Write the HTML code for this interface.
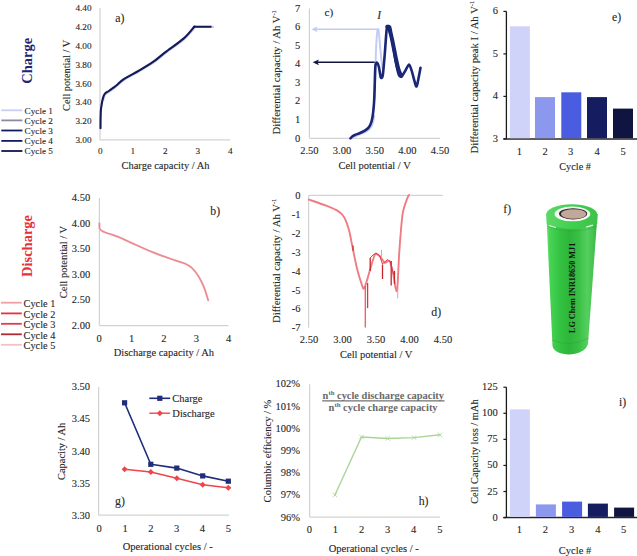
<!DOCTYPE html>
<html><head><meta charset="utf-8"><style>
html,body{margin:0;padding:0;background:#fff;}
svg{display:block;font-family:"Liberation Serif", serif;}
</style></head><body>
<svg width="637" height="556" viewBox="0 0 637 556">
<rect width="637" height="556" fill="#fff"/>
<text x="32.3" y="60.8" font-size="14.5" text-anchor="middle" font-weight="bold" font-style="normal" fill="#1c2675" transform="rotate(-90 32.3 60.8)">Charge</text>
<text x="32.4" y="246" font-size="14.5" text-anchor="middle" font-weight="bold" font-style="normal" fill="#e8303a" transform="rotate(-90 32.4 246)">Discharge</text>
<line x1="1.3" y1="110.3" x2="22.4" y2="110.3" stroke="#c9cef5" stroke-width="1.8"/>
<text x="24.6" y="113.5" font-size="9.2" text-anchor="start" font-weight="normal" font-style="normal" fill="#262626" stroke="#262626" stroke-width="0.1">Cycle 1</text>
<line x1="1.3" y1="120.4" x2="22.4" y2="120.4" stroke="#8a8aa5" stroke-width="1.8"/>
<text x="24.6" y="123.60000000000001" font-size="9.2" text-anchor="start" font-weight="normal" font-style="normal" fill="#262626" stroke="#262626" stroke-width="0.1">Cycle 2</text>
<line x1="1.3" y1="130.5" x2="22.4" y2="130.5" stroke="#121a62" stroke-width="1.8"/>
<text x="24.6" y="133.7" font-size="9.2" text-anchor="start" font-weight="normal" font-style="normal" fill="#262626" stroke="#262626" stroke-width="0.1">Cycle 3</text>
<line x1="1.3" y1="140.9" x2="22.4" y2="140.9" stroke="#141c60" stroke-width="1.8"/>
<text x="24.6" y="144.1" font-size="9.2" text-anchor="start" font-weight="normal" font-style="normal" fill="#262626" stroke="#262626" stroke-width="0.1">Cycle 4</text>
<line x1="1.3" y1="151" x2="22.4" y2="151" stroke="#10164f" stroke-width="1.8"/>
<text x="24.6" y="154.2" font-size="9.2" text-anchor="start" font-weight="normal" font-style="normal" fill="#262626" stroke="#262626" stroke-width="0.1">Cycle 5</text>
<line x1="1" y1="302.7" x2="21.8" y2="302.7" stroke="#f0a0a4" stroke-width="1.8"/>
<text x="23.6" y="306.9" font-size="10.3" text-anchor="start" font-weight="normal" font-style="normal" fill="#262626" stroke="#262626" stroke-width="0.1">Cycle 1</text>
<line x1="1" y1="313.4" x2="21.8" y2="313.4" stroke="#e8303a" stroke-width="1.8"/>
<text x="23.6" y="317.59999999999997" font-size="10.3" text-anchor="start" font-weight="normal" font-style="normal" fill="#262626" stroke="#262626" stroke-width="0.1">Cycle 2</text>
<line x1="1" y1="323.8" x2="21.8" y2="323.8" stroke="#d8404a" stroke-width="1.8"/>
<text x="23.6" y="328.0" font-size="10.3" text-anchor="start" font-weight="normal" font-style="normal" fill="#262626" stroke="#262626" stroke-width="0.1">Cycle 3</text>
<line x1="1" y1="334.3" x2="21.8" y2="334.3" stroke="#b02a30" stroke-width="1.8"/>
<text x="23.6" y="338.5" font-size="10.3" text-anchor="start" font-weight="normal" font-style="normal" fill="#262626" stroke="#262626" stroke-width="0.1">Cycle 4</text>
<line x1="1" y1="344.8" x2="21.8" y2="344.8" stroke="#f5c0c4" stroke-width="1.8"/>
<text x="23.6" y="349.0" font-size="10.3" text-anchor="start" font-weight="normal" font-style="normal" fill="#262626" stroke="#262626" stroke-width="0.1">Cycle 5</text>
<line x1="100" y1="8" x2="100" y2="139.9" stroke="#d3d3d3" stroke-width="1.25"/>
<line x1="100" y1="139.9" x2="230.3" y2="139.9" stroke="#d3d3d3" stroke-width="1.25"/>
<text x="91.5" y="11.1" font-size="9.2" text-anchor="end" font-weight="normal" font-style="normal" fill="#262626" stroke="#262626" stroke-width="0.1">4.40</text>
<text x="91.5" y="30.0" font-size="9.2" text-anchor="end" font-weight="normal" font-style="normal" fill="#262626" stroke="#262626" stroke-width="0.1">4.20</text>
<text x="91.5" y="48.8" font-size="9.2" text-anchor="end" font-weight="normal" font-style="normal" fill="#262626" stroke="#262626" stroke-width="0.1">4.00</text>
<text x="91.5" y="67.7" font-size="9.2" text-anchor="end" font-weight="normal" font-style="normal" fill="#262626" stroke="#262626" stroke-width="0.1">3.80</text>
<text x="91.5" y="86.5" font-size="9.2" text-anchor="end" font-weight="normal" font-style="normal" fill="#262626" stroke="#262626" stroke-width="0.1">3.60</text>
<text x="91.5" y="105.3" font-size="9.2" text-anchor="end" font-weight="normal" font-style="normal" fill="#262626" stroke="#262626" stroke-width="0.1">3.40</text>
<text x="91.5" y="124.2" font-size="9.2" text-anchor="end" font-weight="normal" font-style="normal" fill="#262626" stroke="#262626" stroke-width="0.1">3.20</text>
<text x="91.5" y="143.0" font-size="9.2" text-anchor="end" font-weight="normal" font-style="normal" fill="#262626" stroke="#262626" stroke-width="0.1">3.00</text>
<text x="100.4" y="153.5" font-size="9.2" text-anchor="middle" font-weight="normal" font-style="normal" fill="#262626" stroke="#262626" stroke-width="0.1">0</text>
<text x="132.88" y="153.5" font-size="9.2" text-anchor="middle" font-weight="normal" font-style="normal" fill="#262626" stroke="#262626" stroke-width="0.1">1</text>
<text x="165.36" y="153.5" font-size="9.2" text-anchor="middle" font-weight="normal" font-style="normal" fill="#262626" stroke="#262626" stroke-width="0.1">2</text>
<text x="197.84" y="153.5" font-size="9.2" text-anchor="middle" font-weight="normal" font-style="normal" fill="#262626" stroke="#262626" stroke-width="0.1">3</text>
<text x="230.32" y="153.5" font-size="9.2" text-anchor="middle" font-weight="normal" font-style="normal" fill="#262626" stroke="#262626" stroke-width="0.1">4</text>
<text x="165.5" y="168.5" font-size="10.5" text-anchor="middle" font-weight="normal" font-style="normal" fill="#262626" stroke="#262626" stroke-width="0.1">Charge capacity / Ah</text>
<text x="115.3" y="22.1" font-size="11.8" text-anchor="start" font-weight="normal" font-style="normal" fill="#262626" stroke="#262626" stroke-width="0.1">a)</text>
<text x="70" y="75.4" font-size="10.3" text-anchor="middle" font-weight="normal" font-style="normal" fill="#262626" stroke="#262626" stroke-width="0.1" transform="rotate(-90 70 75.4)">Cell potential / V</text>
<path d="M103.20,99.90 C103.38,99.28 103.85,97.25 104.30,96.20 C104.75,95.15 105.05,94.40 105.90,93.60 C106.75,92.80 108.15,92.25 109.40,91.40 C110.65,90.55 111.95,89.58 113.40,88.50 C114.85,87.42 116.20,86.45 118.10,84.90 C120.00,83.35 121.15,81.55 124.80,79.20 C128.45,76.85 135.13,73.65 140.00,70.80 C144.87,67.95 149.72,65.10 154.00,62.10 C158.28,59.10 160.63,56.68 165.70,52.80 C170.77,48.92 179.53,43.08 184.40,38.80 C189.27,34.52 193.13,29.08 194.90,27.10 C196.67,25.12 191.98,26.93 195.00,26.90 C198.02,26.87 210.00,26.90 213.00,26.90" fill="none" stroke="#c9cef5" stroke-width="2.4" stroke-linejoin="round" stroke-linecap="round"/>
<path d="M100.50,128.30 C100.52,126.58 100.53,121.05 100.60,118.00 C100.67,114.95 100.73,112.17 100.90,110.00 C101.07,107.83 101.32,106.75 101.60,105.00 C101.88,103.25 102.25,101.03 102.60,99.50 C102.95,97.97 103.25,96.85 103.70,95.80 C104.15,94.75 104.45,94.00 105.30,93.20 C106.15,92.40 107.55,91.85 108.80,91.00 C110.05,90.15 111.35,89.18 112.80,88.10 C114.25,87.02 115.60,86.05 117.50,84.50 C119.40,82.95 120.55,81.15 124.20,78.80 C127.85,76.45 134.53,73.25 139.40,70.40 C144.27,67.55 149.12,64.70 153.40,61.70 C157.68,58.70 160.03,56.28 165.10,52.40 C170.17,48.52 178.93,42.68 183.80,38.40 C188.67,34.12 192.55,28.65 194.30,26.70" fill="none" stroke="#131a56" stroke-width="2.1" stroke-linejoin="round" stroke-linecap="round"/>
<path d="M194.3,26.7 L210.7,26.7" fill="none" stroke="#131a56" stroke-width="2.1" stroke-linejoin="round" stroke-linecap="round"/>
<line x1="99.4" y1="198" x2="99.4" y2="325.5" stroke="#d3d3d3" stroke-width="1.25"/>
<line x1="99.4" y1="325.5" x2="228.6" y2="325.5" stroke="#d3d3d3" stroke-width="1.25"/>
<text x="90.2" y="201.3" font-size="10.5" text-anchor="end" font-weight="normal" font-style="normal" fill="#262626" stroke="#262626" stroke-width="0.1">4.50</text>
<text x="90.2" y="226.8" font-size="10.5" text-anchor="end" font-weight="normal" font-style="normal" fill="#262626" stroke="#262626" stroke-width="0.1">4.00</text>
<text x="90.2" y="252.3" font-size="10.5" text-anchor="end" font-weight="normal" font-style="normal" fill="#262626" stroke="#262626" stroke-width="0.1">3.50</text>
<text x="90.2" y="277.9" font-size="10.5" text-anchor="end" font-weight="normal" font-style="normal" fill="#262626" stroke="#262626" stroke-width="0.1">3.00</text>
<text x="90.2" y="303.4" font-size="10.5" text-anchor="end" font-weight="normal" font-style="normal" fill="#262626" stroke="#262626" stroke-width="0.1">2.50</text>
<text x="90.2" y="329.0" font-size="10.5" text-anchor="end" font-weight="normal" font-style="normal" fill="#262626" stroke="#262626" stroke-width="0.1">2.00</text>
<text x="99.2" y="342.0" font-size="10.5" text-anchor="middle" font-weight="normal" font-style="normal" fill="#262626" stroke="#262626" stroke-width="0.1">0</text>
<text x="131.55" y="342.0" font-size="10.5" text-anchor="middle" font-weight="normal" font-style="normal" fill="#262626" stroke="#262626" stroke-width="0.1">1</text>
<text x="163.9" y="342.0" font-size="10.5" text-anchor="middle" font-weight="normal" font-style="normal" fill="#262626" stroke="#262626" stroke-width="0.1">2</text>
<text x="196.25" y="342.0" font-size="10.5" text-anchor="middle" font-weight="normal" font-style="normal" fill="#262626" stroke="#262626" stroke-width="0.1">3</text>
<text x="228.60000000000002" y="342.0" font-size="10.5" text-anchor="middle" font-weight="normal" font-style="normal" fill="#262626" stroke="#262626" stroke-width="0.1">4</text>
<text x="163.9" y="356.3" font-size="10.5" text-anchor="middle" font-weight="normal" font-style="normal" fill="#262626" stroke="#262626" stroke-width="0.1">Discharge capacity / Ah</text>
<text x="210.3" y="215.3" font-size="11.8" text-anchor="start" font-weight="normal" font-style="normal" fill="#262626" stroke="#262626" stroke-width="0.1">b)</text>
<text x="67" y="262" font-size="10.5" text-anchor="middle" font-weight="normal" font-style="normal" fill="#262626" stroke="#262626" stroke-width="0.1" transform="rotate(-90 67 262)">Cell potential / V</text>
<path d="M99.40,223.30 C99.42,223.88 99.35,227.45 99.60,228.30 C99.84,229.15 100.79,230.10 101.50,230.60 C102.21,231.10 104.44,232.11 105.70,232.60 C106.96,233.09 110.63,234.22 112.30,234.80 C113.97,235.38 118.20,236.85 120.00,237.60 C121.80,238.35 125.90,240.37 127.70,241.20 C129.50,242.03 133.47,243.84 135.40,244.70 C137.33,245.56 142.16,247.71 144.20,248.60 C146.24,249.49 150.99,251.52 152.90,252.30 C154.81,253.08 158.84,254.65 160.60,255.30 C162.36,255.95 166.17,257.27 168.00,257.90 C169.83,258.53 174.31,260.02 176.30,260.70 C178.30,261.38 183.30,262.88 185.10,263.70 C186.90,264.52 190.29,266.46 191.70,267.70 C193.11,268.94 196.04,272.63 197.20,274.30 C198.35,275.97 200.70,280.20 201.60,282.00 C202.50,283.80 204.13,287.56 204.90,289.70 C205.67,291.83 207.81,299.06 208.20,300.30" fill="none" stroke="#f2a6aa" stroke-width="2.0" stroke-linejoin="round" stroke-linecap="round"/>
<path d="M99.40,223.30 C99.42,223.88 99.35,227.45 99.60,228.30 C99.84,229.15 100.79,230.10 101.50,230.60 C102.21,231.10 104.44,232.11 105.70,232.60 C106.96,233.09 110.63,234.22 112.30,234.80 C113.97,235.38 118.20,236.85 120.00,237.60 C121.80,238.35 125.90,240.37 127.70,241.20 C129.50,242.03 133.47,243.84 135.40,244.70 C137.33,245.56 142.16,247.71 144.20,248.60 C146.24,249.49 150.99,251.52 152.90,252.30 C154.81,253.08 158.84,254.65 160.60,255.30 C162.36,255.95 166.17,257.27 168.00,257.90 C169.83,258.53 174.31,260.02 176.30,260.70 C178.30,261.38 183.30,262.88 185.10,263.70 C186.90,264.52 190.29,266.46 191.70,267.70 C193.11,268.94 196.04,272.63 197.20,274.30 C198.35,275.97 200.70,280.20 201.60,282.00 C202.50,283.80 204.13,287.56 204.90,289.70 C205.67,291.83 207.81,299.06 208.20,300.30" fill="none" stroke="#e4737a" stroke-width="0.7" stroke-linejoin="round" stroke-linecap="round"/>
<line x1="309.4" y1="8.5" x2="309.4" y2="138" stroke="#d3d3d3" stroke-width="1.25"/>
<line x1="309.4" y1="138.3" x2="440" y2="138.3" stroke="#d3d3d3" stroke-width="1.25"/>
<text x="297.6" y="11.5" font-size="10.5" text-anchor="middle" font-weight="normal" font-style="normal" fill="#262626" stroke="#262626" stroke-width="0.1">7</text>
<text x="297.6" y="30.0" font-size="10.5" text-anchor="middle" font-weight="normal" font-style="normal" fill="#262626" stroke="#262626" stroke-width="0.1">6</text>
<text x="297.6" y="48.6" font-size="10.5" text-anchor="middle" font-weight="normal" font-style="normal" fill="#262626" stroke="#262626" stroke-width="0.1">5</text>
<text x="297.6" y="67.2" font-size="10.5" text-anchor="middle" font-weight="normal" font-style="normal" fill="#262626" stroke="#262626" stroke-width="0.1">4</text>
<text x="297.6" y="85.8" font-size="10.5" text-anchor="middle" font-weight="normal" font-style="normal" fill="#262626" stroke="#262626" stroke-width="0.1">3</text>
<text x="297.6" y="104.3" font-size="10.5" text-anchor="middle" font-weight="normal" font-style="normal" fill="#262626" stroke="#262626" stroke-width="0.1">2</text>
<text x="297.6" y="122.9" font-size="10.5" text-anchor="middle" font-weight="normal" font-style="normal" fill="#262626" stroke="#262626" stroke-width="0.1">1</text>
<text x="297.6" y="141.5" font-size="10.5" text-anchor="middle" font-weight="normal" font-style="normal" fill="#262626" stroke="#262626" stroke-width="0.1">0</text>
<text x="309.4" y="153.8" font-size="10.5" text-anchor="middle" font-weight="normal" font-style="normal" fill="#262626" stroke="#262626" stroke-width="0.1">2.50</text>
<text x="342.04999999999995" y="153.8" font-size="10.5" text-anchor="middle" font-weight="normal" font-style="normal" fill="#262626" stroke="#262626" stroke-width="0.1">3.00</text>
<text x="374.7" y="153.8" font-size="10.5" text-anchor="middle" font-weight="normal" font-style="normal" fill="#262626" stroke="#262626" stroke-width="0.1">3.50</text>
<text x="407.34999999999997" y="153.8" font-size="10.5" text-anchor="middle" font-weight="normal" font-style="normal" fill="#262626" stroke="#262626" stroke-width="0.1">4.00</text>
<text x="440.0" y="153.8" font-size="10.5" text-anchor="middle" font-weight="normal" font-style="normal" fill="#262626" stroke="#262626" stroke-width="0.1">4.50</text>
<text x="374.6" y="169" font-size="10.5" text-anchor="middle" font-weight="normal" font-style="normal" fill="#262626" stroke="#262626" stroke-width="0.1">Cell potential / V</text>
<text x="324.6" y="15.7" font-size="11.3" text-anchor="start" font-weight="normal" font-style="normal" fill="#262626" stroke="#262626" stroke-width="0.1">c)</text>
<text x="379.2" y="19.3" font-size="11.5" text-anchor="middle" font-weight="normal" font-style="italic" fill="#262626" stroke="#262626" stroke-width="0.1">I</text>
<text x="280.5" y="72.3" font-size="10.7" text-anchor="middle" font-weight="normal" font-style="normal" fill="#262626" stroke="#262626" stroke-width="0.1" transform="rotate(-90 280.5 72.3)">Differential capacity / Ah V<tspan font-size="6.5" dy="-4">-1</tspan></text>
<line x1="377.4" y1="29.3" x2="315" y2="29.3" stroke="#c5cbf5" stroke-width="1.4"/>
<path d="M311.5,29.3 L317.5,26.4 L316.3,29.3 L317.5,32.2 Z" fill="#c5cbf5"/>
<line x1="375.2" y1="62.3" x2="316" y2="62.3" stroke="#10153f" stroke-width="1.5"/>
<path d="M312.7,62.3 L318.9,59.4 L317.6,62.3 L318.9,65.2 Z" fill="#10153f"/>
<path d="M372.80,118.00 C373.03,115.00 373.80,107.17 374.20,100.00 C374.60,92.83 374.90,83.33 375.20,75.00 C375.50,66.67 375.67,57.17 376.00,50.00 C376.33,42.83 376.80,35.40 377.20,32.00 C377.60,28.60 378.03,28.60 378.40,29.60 C378.77,30.60 379.07,34.60 379.40,38.00 C379.73,41.40 380.05,46.27 380.40,50.00 C380.75,53.73 381.17,57.40 381.50,60.40 C381.83,63.40 382.25,66.73 382.40,68.00" fill="none" stroke="#c5cbf5" stroke-width="2.0" stroke-linejoin="round" stroke-linecap="round"/>
<path d="M352.00,137.80 C352.53,137.51 354.80,136.16 356.00,135.60 C357.20,135.04 359.67,134.16 361.00,133.60 C362.33,133.04 364.80,132.15 366.00,131.40 C367.20,130.65 369.12,129.12 370.00,128.00 C370.88,126.88 372.07,124.60 372.60,123.00 C373.13,121.40 373.81,116.93 374.00,116.00" fill="none" stroke="#c5cbf5" stroke-width="2.4" stroke-linejoin="round" stroke-linecap="round"/>
<path d="M350.40,138.40 C350.64,138.16 351.98,136.70 352.50,136.30 C353.02,135.90 354.02,135.38 354.90,135.00 C355.77,134.62 358.84,133.51 360.00,133.00 C361.16,132.49 363.87,131.16 364.80,130.60 C365.73,130.04 367.41,128.78 368.00,128.20 C368.59,127.62 369.49,126.38 369.90,125.60 C370.31,124.82 371.17,122.66 371.50,121.50 C371.83,120.34 372.44,117.39 372.70,115.70 C372.96,114.01 373.51,109.06 373.70,107.00 C373.89,104.94 374.18,100.45 374.30,98.00 C374.42,95.55 374.61,89.03 374.70,86.00 C374.79,82.97 375.01,74.45 375.10,72.00 C375.19,69.55 375.31,66.11 375.50,65.00 C375.69,63.89 376.31,62.33 376.70,62.50 C377.08,62.67 378.32,64.75 378.80,66.50 C379.28,68.25 380.33,76.47 380.80,77.50 C381.27,78.53 382.33,78.08 382.80,75.30 C383.27,72.52 384.36,58.98 384.80,53.70 C385.24,48.42 386.20,33.22 386.60,30.00 C387.00,26.78 387.86,25.93 388.20,26.10 C388.54,26.28 389.10,30.17 389.50,31.50 C389.90,32.83 391.12,35.54 391.60,37.50 C392.08,39.46 393.05,45.15 393.60,48.30 C394.15,51.45 395.67,61.35 396.30,64.50 C396.93,67.65 398.37,73.89 399.00,75.30 C399.63,76.71 401.00,77.08 401.70,76.60 C402.40,76.12 404.14,72.61 405.00,71.20 C405.86,69.79 408.31,64.50 409.10,64.50 C409.89,64.50 411.02,68.74 411.80,71.20 C412.58,73.66 415.17,84.02 415.80,85.60 C416.43,87.17 416.65,86.78 417.20,84.70 C417.75,82.62 420.12,69.77 420.50,67.80" fill="none" stroke="#1a2676" stroke-width="2.6" stroke-linejoin="round" stroke-linecap="round"/>
<path d="M387.20,26.80 C387.42,26.84 389.06,26.58 389.40,27.20 C389.74,27.82 390.30,31.62 390.60,33.00 C390.90,34.38 392.02,39.20 392.40,41.00 C392.78,42.80 394.02,49.10 394.40,51.00 C394.78,52.90 395.82,58.25 396.20,60.00 C396.58,61.75 397.80,67.10 398.20,68.50 C398.60,69.90 400.00,73.45 400.20,74.00" fill="none" stroke="#1a2676" stroke-width="4.0" stroke-linejoin="round" stroke-linecap="round"/>
<line x1="308.6" y1="195.5" x2="308.6" y2="327.7" stroke="#d3d3d3" stroke-width="1.25"/>
<line x1="308.6" y1="195.4" x2="442.8" y2="195.4" stroke="#d3d3d3" stroke-width="1.25"/>
<text x="300.5" y="199.3" font-size="10.5" text-anchor="end" font-weight="normal" font-style="normal" fill="#262626" stroke="#262626" stroke-width="0.1">0</text>
<text x="300.5" y="218.2" font-size="10.5" text-anchor="end" font-weight="normal" font-style="normal" fill="#262626" stroke="#262626" stroke-width="0.1">-1</text>
<text x="300.5" y="237.0" font-size="10.5" text-anchor="end" font-weight="normal" font-style="normal" fill="#262626" stroke="#262626" stroke-width="0.1">-2</text>
<text x="300.5" y="255.9" font-size="10.5" text-anchor="end" font-weight="normal" font-style="normal" fill="#262626" stroke="#262626" stroke-width="0.1">-3</text>
<text x="300.5" y="274.7" font-size="10.5" text-anchor="end" font-weight="normal" font-style="normal" fill="#262626" stroke="#262626" stroke-width="0.1">-4</text>
<text x="300.5" y="293.6" font-size="10.5" text-anchor="end" font-weight="normal" font-style="normal" fill="#262626" stroke="#262626" stroke-width="0.1">-5</text>
<text x="300.5" y="312.4" font-size="10.5" text-anchor="end" font-weight="normal" font-style="normal" fill="#262626" stroke="#262626" stroke-width="0.1">-6</text>
<text x="300.5" y="331.3" font-size="10.5" text-anchor="end" font-weight="normal" font-style="normal" fill="#262626" stroke="#262626" stroke-width="0.1">-7</text>
<text x="309.0" y="342.9" font-size="10.5" text-anchor="middle" font-weight="normal" font-style="normal" fill="#262626" stroke="#262626" stroke-width="0.1">2.50</text>
<text x="342.5" y="342.9" font-size="10.5" text-anchor="middle" font-weight="normal" font-style="normal" fill="#262626" stroke="#262626" stroke-width="0.1">3.00</text>
<text x="376.0" y="342.9" font-size="10.5" text-anchor="middle" font-weight="normal" font-style="normal" fill="#262626" stroke="#262626" stroke-width="0.1">3.50</text>
<text x="409.5" y="342.9" font-size="10.5" text-anchor="middle" font-weight="normal" font-style="normal" fill="#262626" stroke="#262626" stroke-width="0.1">4.00</text>
<text x="443.0" y="342.9" font-size="10.5" text-anchor="middle" font-weight="normal" font-style="normal" fill="#262626" stroke="#262626" stroke-width="0.1">4.50</text>
<text x="376.2" y="358.3" font-size="10.5" text-anchor="middle" font-weight="normal" font-style="normal" fill="#262626" stroke="#262626" stroke-width="0.1">Cell potential / V</text>
<text x="431.3" y="316" font-size="11.8" text-anchor="start" font-weight="normal" font-style="normal" fill="#262626" stroke="#262626" stroke-width="0.1">d)</text>
<text x="280.3" y="260.8" font-size="10.7" text-anchor="middle" font-weight="normal" font-style="normal" fill="#262626" stroke="#262626" stroke-width="0.1" transform="rotate(-90 280.3 260.8)">Differential capacity / Ah V<tspan font-size="6.5" dy="-4">-1</tspan></text>
<path d="M308.80,199.60 C310.93,200.33 320.93,203.59 324.80,205.10 C328.67,206.61 335.20,209.26 337.80,210.90 C340.40,212.54 342.79,214.80 344.30,217.40 C345.81,220.00 348.02,226.51 349.10,230.40 C350.18,234.29 351.32,241.41 352.40,246.60 C353.48,251.79 355.91,264.11 357.20,269.30 C358.49,274.49 361.21,282.91 362.10,285.50 C362.99,288.09 363.26,289.35 363.90,288.70 C364.54,288.05 366.06,283.19 366.90,280.60 C367.74,278.01 369.12,272.75 370.20,269.30 C371.28,265.85 373.71,256.43 375.00,254.70 C376.29,252.97 378.59,255.22 379.90,256.30 C381.21,257.38 383.51,262.16 384.80,262.80 C386.09,263.44 388.52,259.81 389.60,261.10 C390.68,262.39 392.11,268.98 392.90,272.50 C393.69,276.02 394.91,285.30 395.50,287.50 C396.09,289.70 396.79,293.73 397.30,289.00 C397.81,284.27 398.59,261.97 399.30,252.00 C400.01,242.03 401.52,221.40 402.60,214.20 C403.68,207.00 406.53,200.56 407.40,198.00 C408.27,195.44 408.87,195.40 409.10,195.00" fill="none" stroke="#f07c82" stroke-width="1.9" stroke-linejoin="round" stroke-linecap="round"/>
<line x1="365.3" y1="286" x2="365.3" y2="327.6" stroke="#f05a60" stroke-width="1.3"/>
<line x1="367.6" y1="283" x2="367.6" y2="308.1" stroke="#e0353c" stroke-width="1.3"/>
<line x1="370.2" y1="257.9" x2="370.2" y2="270.9" stroke="#c8242c" stroke-width="1.3"/>
<line x1="382.5" y1="264.4" x2="382.5" y2="279" stroke="#c8242c" stroke-width="1.3"/>
<line x1="381.5" y1="249.8" x2="381.5" y2="258" stroke="#f29aa0" stroke-width="1.0"/>
<line x1="391.2" y1="261" x2="391.2" y2="285.5" stroke="#c8242c" stroke-width="1.3"/>
<line x1="394.5" y1="270.9" x2="394.5" y2="283.8" stroke="#c8242c" stroke-width="1.2"/>
<line x1="397.7" y1="288.7" x2="397.7" y2="298.4" stroke="#f29aa0" stroke-width="1.0"/>
<line x1="353" y1="245.6" x2="353" y2="250.8" stroke="#c8242c" stroke-width="1.2"/>
<path d="M370.2,258.0 L373.0,255.0 L376.0,253.0 L379.5,255.5 L382.5,264.0 L384.5,262.0 L388.0,259.5 L390.5,262.0 L392.5,271.0 L394.5,276.0" fill="none" stroke="#e0353c" stroke-width="1.0" stroke-linejoin="round" stroke-linecap="round"/>
<line x1="506.4" y1="11.4" x2="506.4" y2="138.9" stroke="#1a1a1a" stroke-width="1.3"/>
<line x1="503.4" y1="138.9" x2="637" y2="138.9" stroke="#262626" stroke-width="1.5"/>
<line x1="503.4" y1="11.4" x2="506.4" y2="11.4" stroke="#1a1a1a" stroke-width="1.2"/>
<text x="495.3" y="14.4" font-size="10.5" text-anchor="middle" font-weight="normal" font-style="normal" fill="#262626" stroke="#262626" stroke-width="0.1">6</text>
<line x1="503.4" y1="53.9" x2="506.4" y2="53.9" stroke="#1a1a1a" stroke-width="1.2"/>
<text x="495.3" y="56.9" font-size="10.5" text-anchor="middle" font-weight="normal" font-style="normal" fill="#262626" stroke="#262626" stroke-width="0.1">5</text>
<line x1="503.4" y1="96.4" x2="506.4" y2="96.4" stroke="#1a1a1a" stroke-width="1.2"/>
<text x="495.3" y="99.4" font-size="10.5" text-anchor="middle" font-weight="normal" font-style="normal" fill="#262626" stroke="#262626" stroke-width="0.1">4</text>
<line x1="503.4" y1="138.9" x2="506.4" y2="138.9" stroke="#1a1a1a" stroke-width="1.2"/>
<text x="495.3" y="141.9" font-size="10.5" text-anchor="middle" font-weight="normal" font-style="normal" fill="#262626" stroke="#262626" stroke-width="0.1">3</text>
<rect x="509.9" y="26.3" width="20" height="111.89999999999999" fill="#cfd3f9"/>
<rect x="535" y="97.1" width="20" height="41.099999999999994" fill="#8c98ee"/>
<rect x="561.3" y="92.3" width="20" height="45.89999999999999" fill="#4a5de0"/>
<rect x="587" y="97.1" width="20" height="41.099999999999994" fill="#151c60"/>
<rect x="613" y="108.6" width="20" height="29.599999999999994" fill="#0f1540"/>
<text x="519.3" y="155.1" font-size="10.5" text-anchor="middle" font-weight="normal" font-style="normal" fill="#262626" stroke="#262626" stroke-width="0.1">1</text>
<text x="545" y="155.1" font-size="10.5" text-anchor="middle" font-weight="normal" font-style="normal" fill="#262626" stroke="#262626" stroke-width="0.1">2</text>
<text x="570.7" y="155.1" font-size="10.5" text-anchor="middle" font-weight="normal" font-style="normal" fill="#262626" stroke="#262626" stroke-width="0.1">3</text>
<text x="597" y="155.1" font-size="10.5" text-anchor="middle" font-weight="normal" font-style="normal" fill="#262626" stroke="#262626" stroke-width="0.1">4</text>
<text x="623" y="155.1" font-size="10.5" text-anchor="middle" font-weight="normal" font-style="normal" fill="#262626" stroke="#262626" stroke-width="0.1">5</text>
<text x="575.1" y="169.5" font-size="10.3" text-anchor="middle" font-weight="normal" font-style="normal" fill="#262626" stroke="#262626" stroke-width="0.1">Cycle #</text>
<text x="612" y="20.9" font-size="11.8" text-anchor="start" font-weight="normal" font-style="normal" fill="#262626" stroke="#262626" stroke-width="0.1">e)</text>
<text x="478.2" y="153.5" font-size="10.65" text-anchor="start" font-weight="normal" font-style="normal" fill="#262626" stroke="#262626" stroke-width="0.1" transform="rotate(-90 478.2 153.5)">Differential capacity peak I / Ah V<tspan font-size="6.5" dy="-4">-1</tspan></text>
<line x1="98.6" y1="387" x2="98.6" y2="515.2" stroke="#d3d3d3" stroke-width="1.25"/>
<line x1="98.6" y1="515.2" x2="229" y2="515.2" stroke="#d3d3d3" stroke-width="1.25"/>
<text x="90" y="390.1" font-size="10.5" text-anchor="end" font-weight="normal" font-style="normal" fill="#262626" stroke="#262626" stroke-width="0.1">3.50</text>
<text x="90" y="422.3" font-size="10.5" text-anchor="end" font-weight="normal" font-style="normal" fill="#262626" stroke="#262626" stroke-width="0.1">3.45</text>
<text x="90" y="454.6" font-size="10.5" text-anchor="end" font-weight="normal" font-style="normal" fill="#262626" stroke="#262626" stroke-width="0.1">3.40</text>
<text x="90" y="486.8" font-size="10.5" text-anchor="end" font-weight="normal" font-style="normal" fill="#262626" stroke="#262626" stroke-width="0.1">3.35</text>
<text x="90" y="519.1" font-size="10.5" text-anchor="end" font-weight="normal" font-style="normal" fill="#262626" stroke="#262626" stroke-width="0.1">3.30</text>
<text x="99.2" y="532.1" font-size="10.5" text-anchor="middle" font-weight="normal" font-style="normal" fill="#262626" stroke="#262626" stroke-width="0.1">0</text>
<text x="125.02000000000001" y="532.1" font-size="10.5" text-anchor="middle" font-weight="normal" font-style="normal" fill="#262626" stroke="#262626" stroke-width="0.1">1</text>
<text x="150.84" y="532.1" font-size="10.5" text-anchor="middle" font-weight="normal" font-style="normal" fill="#262626" stroke="#262626" stroke-width="0.1">2</text>
<text x="176.66000000000003" y="532.1" font-size="10.5" text-anchor="middle" font-weight="normal" font-style="normal" fill="#262626" stroke="#262626" stroke-width="0.1">3</text>
<text x="202.48000000000002" y="532.1" font-size="10.5" text-anchor="middle" font-weight="normal" font-style="normal" fill="#262626" stroke="#262626" stroke-width="0.1">4</text>
<text x="228.3" y="532.1" font-size="10.5" text-anchor="middle" font-weight="normal" font-style="normal" fill="#262626" stroke="#262626" stroke-width="0.1">5</text>
<text x="167.7" y="550.3" font-size="10.5" text-anchor="middle" font-weight="normal" font-style="normal" fill="#262626" stroke="#262626" stroke-width="0.1">Operational cycles / -</text>
<text x="115.1" y="505" font-size="11.8" text-anchor="start" font-weight="normal" font-style="normal" fill="#262626" stroke="#262626" stroke-width="0.1">g)</text>
<text x="65.4" y="451.4" font-size="10.4" text-anchor="middle" font-weight="normal" font-style="normal" fill="#262626" stroke="#262626" stroke-width="0.1" transform="rotate(-90 65.4 451.4)">Capacity / Ah</text>
<path d="M124.6,469.3 L150.8,472.0 L176.8,478.3 L202.7,484.8 L228.3,487.8" fill="none" stroke="#f0444c" stroke-width="1.4" stroke-linejoin="round" stroke-linecap="round"/>
<path d="M121.6,469.3 L124.6,466.3 L127.6,469.3 L124.6,472.3 Z" fill="#f0444c"/>
<path d="M147.8,472 L150.8,469 L153.8,472 L150.8,475 Z" fill="#f0444c"/>
<path d="M173.8,478.3 L176.8,475.3 L179.8,478.3 L176.8,481.3 Z" fill="#f0444c"/>
<path d="M199.7,484.8 L202.7,481.8 L205.7,484.8 L202.7,487.8 Z" fill="#f0444c"/>
<path d="M225.3,487.8 L228.3,484.8 L231.3,487.8 L228.3,490.8 Z" fill="#f0444c"/>
<path d="M124.6,402.8 L150.8,464.3 L176.8,468.1 L202.7,475.9 L228.3,481.2" fill="none" stroke="#1f2d7a" stroke-width="1.6" stroke-linejoin="round" stroke-linecap="round"/>
<rect x="122.0" y="400.2" width="5.2" height="5.2" fill="#1f2d7a"/>
<rect x="148.20000000000002" y="461.7" width="5.2" height="5.2" fill="#1f2d7a"/>
<rect x="174.20000000000002" y="465.5" width="5.2" height="5.2" fill="#1f2d7a"/>
<rect x="200.1" y="473.29999999999995" width="5.2" height="5.2" fill="#1f2d7a"/>
<rect x="225.70000000000002" y="478.59999999999997" width="5.2" height="5.2" fill="#1f2d7a"/>
<line x1="149.3" y1="398.3" x2="170.2" y2="398.3" stroke="#1f2d7a" stroke-width="1.6"/>
<rect x="157.20000000000002" y="395.7" width="5.2" height="5.2" fill="#1f2d7a"/>
<text x="172.3" y="401.8" font-size="10.5" text-anchor="start" font-weight="normal" font-style="normal" fill="#262626" stroke="#262626" stroke-width="0.1">Charge</text>
<line x1="149.3" y1="413.2" x2="170.2" y2="413.2" stroke="#f0444c" stroke-width="1.4"/>
<path d="M156.8,413.2 L159.8,410.2 L162.8,413.2 L159.8,416.2 Z" fill="#f0444c"/>
<text x="172.3" y="416.7" font-size="10.5" text-anchor="start" font-weight="normal" font-style="normal" fill="#262626" stroke="#262626" stroke-width="0.1">Discharge</text>
<line x1="309.6" y1="384.3" x2="309.6" y2="517" stroke="#d3d3d3" stroke-width="1.25"/>
<line x1="309.6" y1="517" x2="440" y2="517" stroke="#d3d3d3" stroke-width="1.25"/>
<text x="300" y="387.3" font-size="10.5" text-anchor="end" font-weight="normal" font-style="normal" fill="#262626" stroke="#262626" stroke-width="0.1">102%</text>
<text x="300" y="409.5" font-size="10.5" text-anchor="end" font-weight="normal" font-style="normal" fill="#262626" stroke="#262626" stroke-width="0.1">101%</text>
<text x="300" y="431.7" font-size="10.5" text-anchor="end" font-weight="normal" font-style="normal" fill="#262626" stroke="#262626" stroke-width="0.1">100%</text>
<text x="300" y="453.9" font-size="10.5" text-anchor="end" font-weight="normal" font-style="normal" fill="#262626" stroke="#262626" stroke-width="0.1">99%</text>
<text x="300" y="476.1" font-size="10.5" text-anchor="end" font-weight="normal" font-style="normal" fill="#262626" stroke="#262626" stroke-width="0.1">98%</text>
<text x="300" y="498.4" font-size="10.5" text-anchor="end" font-weight="normal" font-style="normal" fill="#262626" stroke="#262626" stroke-width="0.1">97%</text>
<text x="300" y="520.6" font-size="10.5" text-anchor="end" font-weight="normal" font-style="normal" fill="#262626" stroke="#262626" stroke-width="0.1">96%</text>
<text x="309.3" y="532.6" font-size="10.5" text-anchor="middle" font-weight="normal" font-style="normal" fill="#262626" stroke="#262626" stroke-width="0.1">0</text>
<text x="335.40000000000003" y="532.6" font-size="10.5" text-anchor="middle" font-weight="normal" font-style="normal" fill="#262626" stroke="#262626" stroke-width="0.1">1</text>
<text x="361.5" y="532.6" font-size="10.5" text-anchor="middle" font-weight="normal" font-style="normal" fill="#262626" stroke="#262626" stroke-width="0.1">2</text>
<text x="387.6" y="532.6" font-size="10.5" text-anchor="middle" font-weight="normal" font-style="normal" fill="#262626" stroke="#262626" stroke-width="0.1">3</text>
<text x="413.70000000000005" y="532.6" font-size="10.5" text-anchor="middle" font-weight="normal" font-style="normal" fill="#262626" stroke="#262626" stroke-width="0.1">4</text>
<text x="439.8" y="532.6" font-size="10.5" text-anchor="middle" font-weight="normal" font-style="normal" fill="#262626" stroke="#262626" stroke-width="0.1">5</text>
<text x="373.7" y="551.7" font-size="10.5" text-anchor="middle" font-weight="normal" font-style="normal" fill="#262626" stroke="#262626" stroke-width="0.1">Operational cycles / -</text>
<text x="418.7" y="504.5" font-size="11.8" text-anchor="start" font-weight="normal" font-style="normal" fill="#262626" stroke="#262626" stroke-width="0.1">h)</text>
<text x="270.8" y="451" font-size="10.5" text-anchor="middle" font-weight="normal" font-style="normal" fill="#262626" stroke="#262626" stroke-width="0.1" transform="rotate(-90 270.8 451)">Columbic efficiency / %</text>
<path d="M334.9,495.0 L361.5,437.0 L387.7,438.5 L414.0,437.6 L440.0,434.8" fill="none" stroke="#a9d496" stroke-width="1.4" stroke-linejoin="round" stroke-linecap="round"/>
<path d="M332.9,493 L336.9,497 M332.9,497 L336.9,493" fill="none" stroke="#a9d496" stroke-width="0.8" stroke-linejoin="round" stroke-linecap="round"/>
<path d="M359.5,435 L363.5,439 M359.5,439 L363.5,435" fill="none" stroke="#a9d496" stroke-width="0.8" stroke-linejoin="round" stroke-linecap="round"/>
<path d="M385.7,436.5 L389.7,440.5 M385.7,440.5 L389.7,436.5" fill="none" stroke="#a9d496" stroke-width="0.8" stroke-linejoin="round" stroke-linecap="round"/>
<path d="M412,435.6 L416,439.6 M412,439.6 L416,435.6" fill="none" stroke="#a9d496" stroke-width="0.8" stroke-linejoin="round" stroke-linecap="round"/>
<path d="M438,432.8 L442,436.8 M438,436.8 L442,432.8" fill="none" stroke="#a9d496" stroke-width="0.8" stroke-linejoin="round" stroke-linecap="round"/>
<text x="322.6" y="398.8" font-size="10.4" text-anchor="start" font-weight="bold" font-style="normal" fill="#6a6a6a" textLength="121.4" lengthAdjust="spacingAndGlyphs">n<tspan font-size="6.8" dy="-3.8">th</tspan><tspan dy="3.8"> cycle discharge capacity</tspan></text>
<line x1="322.2" y1="400.8" x2="444.5" y2="400.8" stroke="#707070" stroke-width="1.2"/>
<text x="328.6" y="411.1" font-size="10.4" text-anchor="start" font-weight="bold" font-style="normal" fill="#6a6a6a" textLength="109" lengthAdjust="spacingAndGlyphs">n<tspan font-size="6.8" dy="-3.8">th</tspan><tspan dy="3.8"> cycle charge capacity</tspan></text>
<line x1="506.4" y1="387.2" x2="506.4" y2="517.6" stroke="#1a1a1a" stroke-width="1.3"/>
<line x1="503.4" y1="517.6" x2="637" y2="517.6" stroke="#262626" stroke-width="1.5"/>
<line x1="503.4" y1="387.2" x2="506.4" y2="387.2" stroke="#1a1a1a" stroke-width="1.2"/>
<text x="497.8" y="390.2" font-size="10.5" text-anchor="end" font-weight="normal" font-style="normal" fill="#262626" stroke="#262626" stroke-width="0.1">125</text>
<line x1="503.4" y1="413.28" x2="506.4" y2="413.28" stroke="#1a1a1a" stroke-width="1.2"/>
<text x="497.8" y="416.2" font-size="10.5" text-anchor="end" font-weight="normal" font-style="normal" fill="#262626" stroke="#262626" stroke-width="0.1">100</text>
<line x1="503.4" y1="439.36" x2="506.4" y2="439.36" stroke="#1a1a1a" stroke-width="1.2"/>
<text x="497.8" y="442.3" font-size="10.5" text-anchor="end" font-weight="normal" font-style="normal" fill="#262626" stroke="#262626" stroke-width="0.1">75</text>
<line x1="503.4" y1="465.44" x2="506.4" y2="465.44" stroke="#1a1a1a" stroke-width="1.2"/>
<text x="497.8" y="468.4" font-size="10.5" text-anchor="end" font-weight="normal" font-style="normal" fill="#262626" stroke="#262626" stroke-width="0.1">50</text>
<line x1="503.4" y1="491.52" x2="506.4" y2="491.52" stroke="#1a1a1a" stroke-width="1.2"/>
<text x="497.8" y="494.5" font-size="10.5" text-anchor="end" font-weight="normal" font-style="normal" fill="#262626" stroke="#262626" stroke-width="0.1">25</text>
<line x1="503.4" y1="517.5999999999999" x2="506.4" y2="517.5999999999999" stroke="#1a1a1a" stroke-width="1.2"/>
<text x="497.8" y="520.6" font-size="10.5" text-anchor="end" font-weight="normal" font-style="normal" fill="#262626" stroke="#262626" stroke-width="0.1">0</text>
<rect x="509.9" y="409.4" width="20" height="107.5" fill="#cfd3f9"/>
<rect x="535.9" y="504.4" width="20" height="12.5" fill="#8c98ee"/>
<rect x="562.1" y="501.6" width="20" height="15.299999999999955" fill="#4a5de0"/>
<rect x="587.9" y="503.6" width="20" height="13.299999999999955" fill="#151c60"/>
<rect x="614.1" y="507.6" width="20" height="9.299999999999955" fill="#0f1540"/>
<text x="519.3" y="533.1" font-size="10.5" text-anchor="middle" font-weight="normal" font-style="normal" fill="#262626" stroke="#262626" stroke-width="0.1">1</text>
<text x="545.3" y="533.1" font-size="10.5" text-anchor="middle" font-weight="normal" font-style="normal" fill="#262626" stroke="#262626" stroke-width="0.1">2</text>
<text x="571.6" y="533.1" font-size="10.5" text-anchor="middle" font-weight="normal" font-style="normal" fill="#262626" stroke="#262626" stroke-width="0.1">3</text>
<text x="597.9" y="533.1" font-size="10.5" text-anchor="middle" font-weight="normal" font-style="normal" fill="#262626" stroke="#262626" stroke-width="0.1">4</text>
<text x="623.6" y="533.1" font-size="10.5" text-anchor="middle" font-weight="normal" font-style="normal" fill="#262626" stroke="#262626" stroke-width="0.1">5</text>
<text x="575" y="554.2" font-size="10.5" text-anchor="middle" font-weight="normal" font-style="normal" fill="#262626" stroke="#262626" stroke-width="0.1">Cycle #</text>
<text x="619" y="406.3" font-size="11.8" text-anchor="start" font-weight="normal" font-style="normal" fill="#262626" stroke="#262626" stroke-width="0.1">i)</text>
<text x="478.2" y="451.6" font-size="10.4" text-anchor="middle" font-weight="normal" font-style="normal" fill="#262626" stroke="#262626" stroke-width="0.1" transform="rotate(-90 478.2 451.6)">Cell Capacity loss / mAh</text>
<text x="503.3" y="213.4" font-size="11.8" text-anchor="start" font-weight="normal" font-style="normal" fill="#262626" stroke="#262626" stroke-width="0.1">f)</text>

<defs>
<linearGradient id="bg" x1="0" x2="1" y1="0" y2="0">
<stop offset="0" stop-color="#7ee080"/>
<stop offset="0.07" stop-color="#45d453"/>
<stop offset="0.25" stop-color="#35c443"/>
<stop offset="0.45" stop-color="#2eb53b"/>
<stop offset="0.62" stop-color="#38bf44"/>
<stop offset="0.8" stop-color="#55cf5f"/>
<stop offset="0.93" stop-color="#42c04c"/>
<stop offset="1" stop-color="#33a83c"/>
</linearGradient>
<linearGradient id="tg" x1="0" x2="1" y1="0" y2="0">
<stop offset="0" stop-color="#5fd868"/>
<stop offset="0.5" stop-color="#3fd04e"/>
<stop offset="1" stop-color="#3ec24a"/>
</linearGradient>
</defs>
<path d="M546.3,214 L552.5,346 C554,357 584,358 588,344 L597.5,214 Z" fill="url(#bg)"/>
<path d="M546.3,214.3 L546.8,224 Q572,234 597.2,224 L597.5,214.3 Z" fill="url(#tg)"/>
<ellipse cx="571.7" cy="214.3" rx="25.5" ry="10" fill="url(#tg)"/>
<ellipse cx="572.4" cy="213.9" rx="17.9" ry="7.4" fill="#f6f8f4"/>
<ellipse cx="573.1" cy="213.8" rx="14.1" ry="5.6" fill="#2a2a2a"/>
<ellipse cx="573.6" cy="214" rx="12.6" ry="4.8" fill="#c2a899"/>
<path d="M549,225.5 Q553,227 556,227.5" fill="none" stroke="#e8f8e8" stroke-width="1.2"/>
<path d="M586,227 Q590,226.3 593,225" fill="none" stroke="#e8f8e8" stroke-width="1.2"/>
<path d="M547,226.5 Q572,236 597,226.5" fill="none" stroke="#2e9a3b" stroke-width="1" opacity="0.35"/>
<path d="M552,340 Q570,348 588.5,338" fill="none" stroke="#2e9a3b" stroke-width="1" opacity="0.4"/>

<text x="575.3" y="333" font-size="8.2" text-anchor="start" font-weight="bold" font-style="normal" fill="#111" transform="rotate(-90 575.3 333)" textLength="90.3" lengthAdjust="spacingAndGlyphs">LG Chem INR18650 MJ1</text>
</svg>
</body></html>
